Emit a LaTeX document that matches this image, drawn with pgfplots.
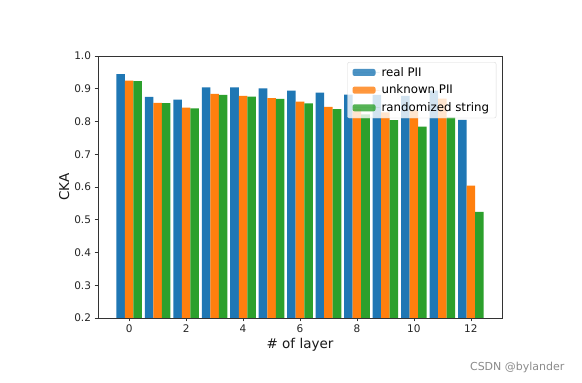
\documentclass[border=0pt]{standalone}
\usepackage{fontspec}
\setmainfont{DejaVu Sans}
\usepackage{pgfplots}
\usepackage{pgfplotstable}
\pgfplotsset{compat=1.18}
\definecolor{c1}{HTML}{1F77B4}
\definecolor{c2}{HTML}{FF7F0E}
\definecolor{c3}{HTML}{2CA02C}
\pgfplotstableread{
layer real unknown random
0  0.945 0.925 0.923
1  0.875 0.857 0.856
2  0.867 0.842 0.840
3  0.904 0.884 0.881
4  0.904 0.878 0.876
5  0.901 0.871 0.869
6  0.894 0.861 0.855
7  0.888 0.845 0.838
8  0.882 0.838 0.822
9  0.881 0.828 0.804
10 0.878 0.834 0.784
11 0.894 0.870 0.813
12 0.805 0.604 0.524
}\data
\begin{document}
\begin{tikzpicture}
\path[use as bounding box, fill=white] (0pt,0pt) rectangle (582pt,383pt);
\begin{axis}[
  at={(98pt,65pt)}, anchor=south west,
  scale only axis, width=404pt, height=262pt,
  xmin=-1.095, xmax=13.095, ymin=0.2, ymax=1.0,
  ybar, bar width=0.3,
  xtick={0,2,4,6,8,10,12},
  ytick={0.2,0.3,0.4,0.5,0.6,0.7,0.8,0.9,1.0},
  yticklabel style={/pgf/number format/.cd, fixed, fixed zerofill, precision=1},
  /pgf/number format/assume math mode=true,
  tick label style={font=\fontsize{10.5}{12}\selectfont, text=black!85},
  tick align=outside, xtick pos=left, ytick pos=left,
  major tick length=3.5pt,
  tick style={black!80, line width=0.6pt},
  axis line style={black!80, line width=0.6pt},
  xlabel={\# of layer}, ylabel={CKA},
  label style={font=\fontsize{13.5}{15}\selectfont, text=black!90},
  xlabel style={yshift=2pt},
  ylabel style={yshift=-2pt},
  legend style={at={(0.986,0.977)}, anchor=north east,
    draw=black!15, fill=white, fill opacity=0.8, text opacity=1,
    rounded corners=2pt, font=\fontsize{11.8}{13}\selectfont,
    inner xsep=5pt, inner ysep=3pt, row sep=3.2pt},
  legend cell align=left,
  legend image code/.code={\fill[#1] (0pt,-3.5pt) rectangle (23pt,3.5pt);
    \path (0pt,0pt) -- (27pt,0pt);},
]
\addplot[fill=c1, draw=none, bar shift=-0.3] table[x=layer,y=real]{\data};
\addplot[fill=c2, draw=none, bar shift=0] table[x=layer,y=unknown]{\data};
\addplot[fill=c3, draw=none, bar shift=0.3] table[x=layer,y=random]{\data};
\legend{real PII, unknown PII, randomized string}
\end{axis}
\node[anchor=base east, text=black!45, font=\fontsize{11}{12}\selectfont] at (568pt,12pt) {CSDN @bylander};
\end{tikzpicture}
\end{document}
